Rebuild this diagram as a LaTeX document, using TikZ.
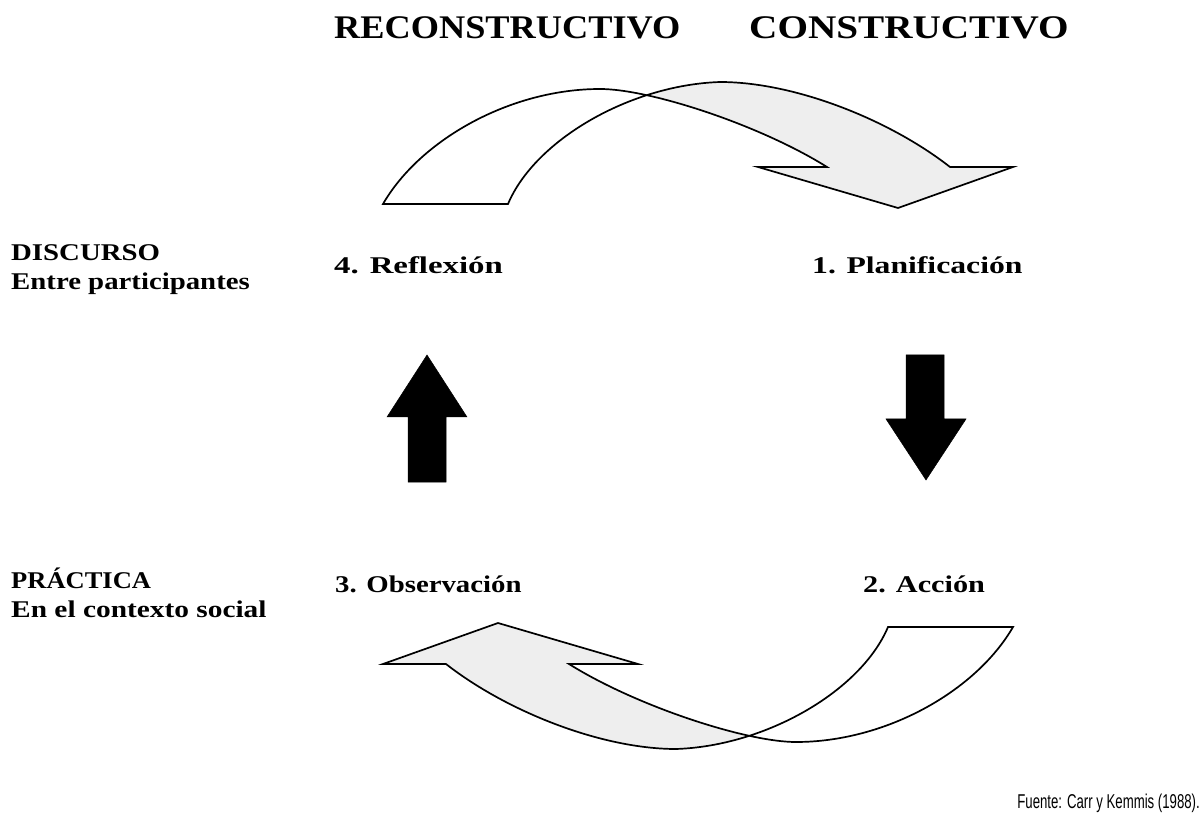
\documentclass[tikz,border=0pt]{standalone}
\usepackage{fontspec}
\usepackage{graphicx}
\setmainfont{Liberation Serif}
\newfontfamily\titlef{Liberation Serif}[FakeStretch=1.1]
\newfontfamily\labelf{Liberation Serif}[FakeStretch=1.2]
\newfontfamily\sansf{Liberation Sans}[FakeStretch=0.66]
\usetikzlibrary{intersections}
\definecolor{bandgrey}{HTML}{EEEEEE}
\tikzset{
  titletext/.style={inner sep=0pt, anchor=base west, font=\titlef\bfseries\fontsize{33}{36}\selectfont},
  labeltext/.style={inner sep=0pt, anchor=base west, font=\labelf\bfseries\fontsize{24}{28}\selectfont},
  sourcetext/.style={inner sep=0pt, anchor=base east, font=\sansf\fontsize{20}{24}\selectfont},
  bandline/.style={draw=black, line width=1.7pt, line join=miter},
  blockarrow/.style={fill=black, draw=black, line width=0.5pt}
}
\def\topband{(383,204) .. controls (420,140) and (510,89) .. (600,89) .. controls (650,89) and (760,125) .. (827,167) -- (758,167) -- (898,208) -- (1013,167) -- (950,167) .. controls (890,120) and (795,82) .. (720,82) .. controls (630,85) and (535,140) .. (508,204) -- cycle}
\def\botband{(1013,627) .. controls (976,691) and (886,742) .. (796,742) .. controls (746,742) and (636,706) .. (569,664) -- (638,664) -- (498,623) -- (383,664) -- (446,664) .. controls (506,711) and (601,749) .. (676,749) .. controls (766,746) and (861,691) .. (888,627) -- cycle}
\begin{document}
\begin{tikzpicture}[x=1pt,y=-1pt]
\useasboundingbox (0,0) rectangle (1203,818);
\fill[white] (0,0) rectangle (1203,818);

% ---------- top curved arrow ----------
\path[name path=tA] (383,204) .. controls (420,140) and (510,89) .. (600,89) .. controls (650,89) and (760,125) .. (827,167);
\path[name path=tB] (950,167) .. controls (890,120) and (795,82) .. (720,82) .. controls (630,85) and (535,140) .. (508,204);
\path[name intersections={of=tA and tB, by=tX}];
\fill[white] \topband;
\begin{scope}
  \clip (tX |- 0,0) rectangle (1203,818);
  \fill[bandgrey] \topband;
\end{scope}
\draw[bandline] \topband;

% ---------- bottom curved arrow ----------
\path[name path=bA] (1013,627) .. controls (976,691) and (886,742) .. (796,742) .. controls (746,742) and (636,706) .. (569,664);
\path[name path=bB] (446,664) .. controls (506,711) and (601,749) .. (676,749) .. controls (766,746) and (861,691) .. (888,627);
\path[name intersections={of=bA and bB, by=bX}];
\fill[white] \botband;
\begin{scope}
  \clip (0,0) rectangle (bX |- 0,818);
  \fill[bandgrey] \botband;
\end{scope}
\draw[bandline] \botband;

% ---------- block arrows ----------
\draw[blockarrow] (408,482) -- (408,417) -- (387,417) -- (427,355) -- (467,417) -- (446,417) -- (446,482) -- cycle;
\draw[blockarrow] (906,355) -- (944,355) -- (944,419) -- (966,419) -- (926,480) -- (886,419) -- (906,419) -- cycle;

% ---------- texts ----------
\node[titletext] (recon) at (334,39) {RECONSTRUCTIVO};
\node[titletext] (cons) at (749,39) {\scalebox{1.08}[1]{CONSTRUCTIVO}};

\node[labeltext] (disc) at (11,261) {DISCURSO};
\node[labeltext] (entre) at (11,290) {Entre participantes};
\node[labeltext] (prac) at (11,588) {\scalebox{0.92}[1]{PRÁCTICA}};
\node[labeltext] (enel) at (11,617) {\scalebox{1.02}[1]{En el contexto social}};

\node[labeltext] (refl) at (334,274) {\scalebox{1.14}[1]{4. Reflexión}};
\node[labeltext] (plan) at (812,274) {\scalebox{1.10}[1]{1. Planificación}};
\node[labeltext] (obs) at (335,592) {3. Observación};
\node[labeltext] (acc) at (863,592) {\scalebox{1.05}[1]{2. Acción}};

\node[sourcetext] (src) at (1200,808) {Fuente: Carr y Kemmis (1988).};
\end{tikzpicture}
\end{document}
